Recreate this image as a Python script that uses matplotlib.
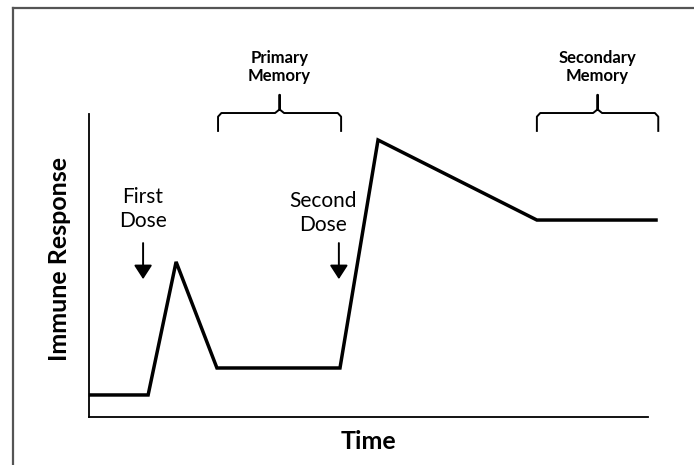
import matplotlib.pyplot as plt
from matplotlib.lines import Line2D

# immune response curve (arbitrary units)
time = [0.3, 10.6, 15.6, 22.9, 44.9, 51.7, 80.1, 101.4]
response = [7.3, 7.3, 51.2, 16.2, 16.2, 91.4, 65.0, 65.0]

# dose markers: (label, text x, text y, arrow x)
doses = [("First\nDose", 9.7, 68.8, 9.7),
         ("Second\nDose", 41.8, 67.2, 44.7)]
arrow_top = 57.4
arrow_bottom = 45.5

# memory brackets: (label, left, right)
memories = [("Primary\nMemory", 23.1, 45.1),
            ("Secondary\nMemory", 80.1, 101.8)]

plt.rcParams['font.family'] = ['Lato', 'DejaVu Sans']

fig = plt.figure(figsize=(6.94, 4.65), dpi=100)
ax = fig.add_axes([0.128, 0.103, 0.806, 0.652])
ax.set_xlim(0, 100)
ax.set_ylim(0, 100)

ax.plot(time, response, color='black', lw=2.5, solid_joinstyle='miter', clip_on=False)

for s in ['top', 'right']:
    ax.spines[s].set_visible(False)
for s in ['left', 'bottom']:
    ax.spines[s].set_linewidth(1.3)
ax.set_xticks([])
ax.set_yticks([])

ax.set_xlabel("Time", fontsize=18, fontweight='bold', labelpad=9)
ax.set_ylabel("Immune Response", fontsize=18, fontweight='bold')
ax.yaxis.set_label_coords(-0.031, 0.52)

for label, tx, ty, axx in doses:
    ax.text(tx, ty, label, ha='center', va='center', fontsize=15, linespacing=1.25)
    ax.annotate('', xy=(axx, arrow_bottom), xytext=(axx, arrow_top),
                arrowprops=dict(arrowstyle='-|>,head_length=0.85,head_width=0.55',
                                color='black', lw=1.4, shrinkA=0, shrinkB=0))

# curly brackets above the plot
yb, yh, yt = 94.4, 100.3, 106.3
for label, x0, x1 in memories:
    xc = (x0 + x1) / 2
    bx = [x0, x0, x0 + 0.6, xc - 0.8, xc, xc, xc, xc + 0.8, x1 - 0.6, x1, x1]
    by = [yb, yh - 1.2, yh, yh, yh + 1.2, yt, yh + 1.2, yh, yh, yh - 1.2, yb]
    ax.plot(bx, by, color='black', lw=1.4, clip_on=False)
    ax.text(xc, 115.5, label, ha='center', va='center', fontsize=12,
            fontweight='bold', linespacing=1.2)

# picture frame (top and left edges)
fig.add_artist(Line2D([0.0187, 0.0187], [0.0, 0.983], color='#555555', lw=1.6))
fig.add_artist(Line2D([0.0187, 1.0], [0.983, 0.983], color='#555555', lw=1.6))

fig.savefig('out.png', dpi=100)
